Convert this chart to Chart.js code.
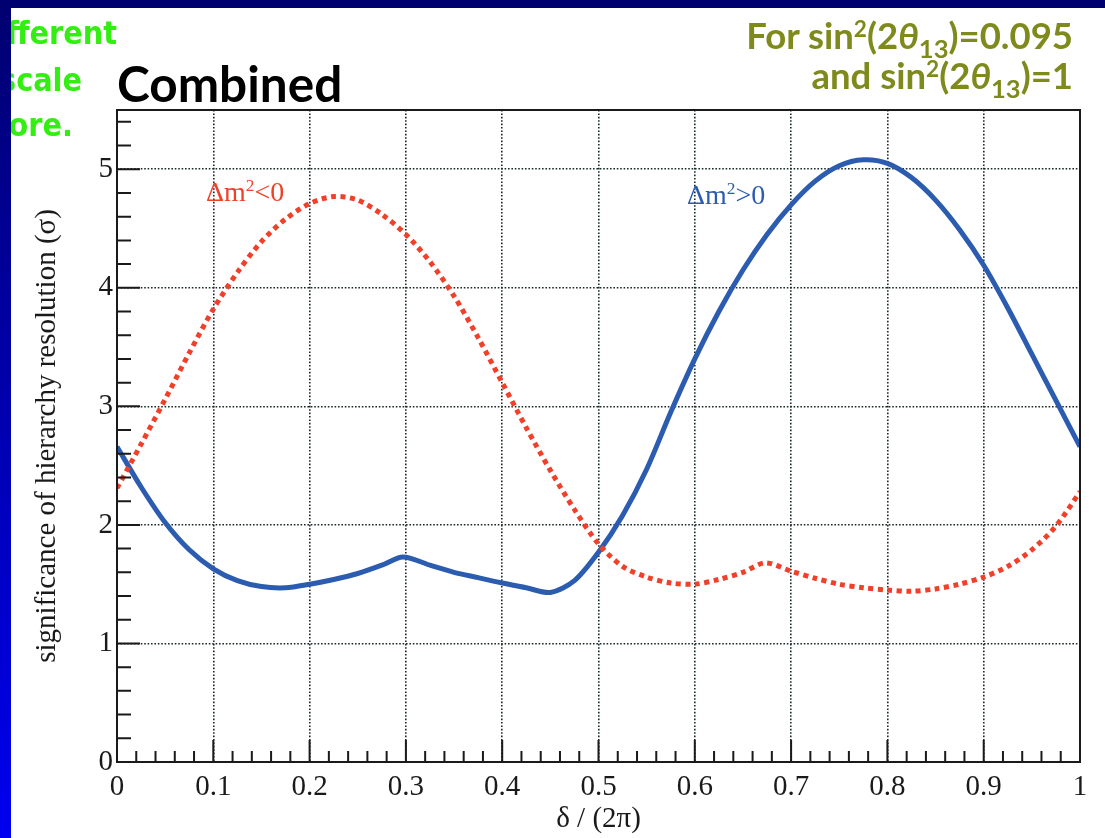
<!DOCTYPE html>
<html>
<head>
<meta charset="utf-8">
<script src="https://cdn.jsdelivr.net/npm/chart.js@4/dist/chart.umd.min.js"></script>
<style>
  html, body { margin: 0; padding: 0; background: #fff; }
  #page { position: relative; width: 1105px; height: 838px; overflow: hidden; background: #fff; }
  #chart { position: absolute; left: 0; top: 0; }
  .band-top { position: absolute; left: 0; top: 0; width: 1105px; height: 8px; background: #000070; z-index: 5; }
  .band-left { position: absolute; left: 0; top: 0; width: 11px; height: 838px; z-index: 5;
    background: linear-gradient(to bottom, #000070 0%, #0000b0 50%, #0000f0 100%); }
  .green { position: absolute; color: #33ee11; font: bold 32px "DejaVu Sans Condensed", "DejaVu Sans", sans-serif;
    font-stretch: condensed; white-space: nowrap; z-index: 2; line-height: 38px; }
  .combined { position: absolute; left: 117px; top: 53px; color: #000; font: bold 49.5px Lato, sans-serif; }
  .olive { position: absolute; right: 32px; color: #7f8a1c; font: bold 36.5px Lato, sans-serif; text-align: right; white-space: nowrap; }
  .olive sup { font-size: 0.62em; vertical-align: 0.55em; line-height: 0; }
  .olive sub { font-size: 0.7em; vertical-align: -0.35em; line-height: 0; }
  .lbl { position: absolute; font: 28px "Liberation Serif", serif; white-space: nowrap; }
  .lbl sup { font-size: 0.62em; vertical-align: 0.6em; line-height: 0; }
</style>
</head>
<body>
<div id="page">
  <canvas id="chart" width="1105" height="838"></canvas>
  <div class="band-top"></div>
  <div class="band-left"></div>
  <div class="green" style="right:988px; top:14px;">fferent</div>
  <div class="green" style="right:1023px; top:61px;">scale</div>
  <div class="green" style="right:1032px; top:106px;">ore.</div>
  <div class="combined">Combined</div>
  <div class="olive" style="top:13px;">For sin<sup>2</sup>(2<i>θ</i><sub>13</sub>)=0.095</div>
  <div class="olive" style="top:53px;">and sin<sup>2</sup>(2<i>θ</i><sub>13</sub>)=1</div>
  <div class="lbl" style="left:206px; top:176px; color:#f0402a;">Δm<sup>2</sup>&lt;0</div>
  <div class="lbl" style="left:687px; top:179px; color:#2c5cb0;">Δm<sup>2</sup>&gt;0</div>
</div>
<script>
// inverted hierarchy curve (dotted red)
var redX = [0, 0.025, 0.05, 0.075, 0.1, 0.125, 0.15, 0.175, 0.2, 0.225, 0.25, 0.275, 0.3, 0.325, 0.35, 0.375, 0.4,
    0.425, 0.45, 0.475, 0.5, 0.525, 0.55, 0.575, 0.6, 0.625, 0.65, 0.673, 0.7, 0.725, 0.75, 0.775, 0.8, 0.825,
    0.85, 0.875, 0.9, 0.925, 0.95, 0.975, 1];
var redY = [2.31, 2.68, 3.06, 3.45, 3.82, 4.13, 4.39, 4.58, 4.71, 4.77, 4.74, 4.62, 4.45, 4.22, 3.93, 3.58, 3.20,
    2.82, 2.46, 2.13, 1.84, 1.65, 1.56, 1.51, 1.50, 1.54, 1.60, 1.68, 1.61, 1.55, 1.50, 1.47, 1.45, 1.44,
    1.46, 1.50, 1.56, 1.65, 1.79, 1.99, 2.28];

// normal hierarchy curve (solid blue)
var blueX = [0, 0.025, 0.05, 0.075, 0.1, 0.125, 0.15, 0.175, 0.2, 0.225, 0.25, 0.275, 0.297, 0.325, 0.35, 0.375, 0.4,
    0.425, 0.45, 0.475, 0.5, 0.525, 0.55, 0.575, 0.6, 0.625, 0.65, 0.675, 0.7, 0.725, 0.75, 0.775, 0.8, 0.825,
    0.85, 0.875, 0.9, 0.925, 0.95, 0.975, 1];
var blueY = [2.66, 2.32, 2.02, 1.79, 1.63, 1.53, 1.48, 1.47, 1.50, 1.54, 1.59, 1.66, 1.73, 1.66, 1.60, 1.555, 1.51,
    1.47, 1.43, 1.53, 1.77, 2.08, 2.47, 2.95, 3.40, 3.80, 4.15, 4.45, 4.70, 4.90, 5.03, 5.08, 5.05, 4.93,
    4.74, 4.49, 4.19, 3.83, 3.44, 3.05, 2.66];

var xMajor = [0, 0.1, 0.2, 0.3, 0.4, 0.5, 0.6, 0.7, 0.8, 0.9, 1];
var yMajor = [0, 1, 2, 3, 4, 5];

var serif = 'Liberation Serif';

function pts(xs, ys) {
    return xs.map(function (x, i) { return { x: x, y: ys[i] }; });
}

// ROOT-like frame with inward ticks
var frameTicks = {
    id: 'frameTicks',
    afterDraw: function (c) {
        var ctx = c.ctx, a = c.chartArea, xs = c.scales.x, ys = c.scales.y;
        ctx.save();
        ctx.strokeStyle = '#1a1a1a';
        ctx.lineWidth = 2;
        ctx.beginPath();
        for (var i = 0; i <= 50; i++) {
            var px = xs.getPixelForValue(i / 50);
            var len = i % 5 === 0 ? 22 : 11;
            ctx.moveTo(px, a.bottom);
            ctx.lineTo(px, a.bottom - len);
        }
        for (var j = 0; j <= 27; j++) {
            var py = ys.getPixelForValue(j * 0.2);
            var l2 = j % 5 === 0 ? 23 : 14;
            ctx.moveTo(a.left, py);
            ctx.lineTo(a.left + l2, py);
        }
        ctx.stroke();
        ctx.strokeRect(a.left, a.top, a.right - a.left, a.bottom - a.top);
        ctx.restore();
    }
};

var ctx = document.getElementById('chart').getContext('2d');

var chart = new Chart(ctx, {
    type: 'line',
    data: {
        datasets: [
            {
                label: 'Δm²<0',
                data: pts(redX, redY),
                borderColor: '#f0402a',
                borderWidth: 5,
                borderDash: [5, 4.5],
                pointRadius: 0,
                tension: 0.3,
                fill: false
            },
            {
                label: 'Δm²>0',
                data: pts(blueX, blueY),
                borderColor: '#2c5cb0',
                borderWidth: 5,
                pointRadius: 0,
                tension: 0.3,
                fill: false
            }
        ]
    },
    options: {
        responsive: false,
        animation: false,
        devicePixelRatio: 1,
        layout: { padding: { top: 110, right: 25, left: 0, bottom: 0 } },
        plugins: { legend: { display: false }, tooltip: { enabled: false } },
        scales: {
            x: {
                type: 'linear',
                min: 0,
                max: 1,
                afterBuildTicks: function (s) {
                    s.ticks = xMajor.map(function (v) { return { value: v }; });
                },
                afterFit: function (s) { s.height = 76; },
                ticks: {
                    color: '#1a1a1a',
                    font: { family: serif, size: 29 },
                    padding: 8,
                    maxRotation: 0,
                    autoSkip: false,
                    callback: function (v) { return String(Math.round(v * 10) / 10); }
                },
                grid: {
                    drawTicks: false,
                    lineWidth: 1.6,
                    color: function (c) {
                        var v = c.tick ? c.tick.value : 0;
                        return (v <= 0 || v >= 1) ? 'rgba(0,0,0,0)' : '#1a2a2a';
                    }
                },
                border: { display: false, dash: [1.6, 1.8] },
                title: {
                    display: true,
                    text: 'δ / (2π)',
                    color: '#1a1a1a',
                    font: { family: serif, size: 29 },
                    padding: { top: 0, bottom: 1 }
                }
            },
            y: {
                min: 0,
                max: 5.5,
                afterBuildTicks: function (s) {
                    s.ticks = yMajor.map(function (v) { return { value: v }; });
                },
                afterFit: function (s) { s.width = 117; },
                ticks: {
                    color: '#1a1a1a',
                    font: { family: serif, size: 29 },
                    padding: 4
                },
                grid: {
                    drawTicks: false,
                    lineWidth: 1.6,
                    color: function (c) {
                        var v = c.tick ? c.tick.value : 0;
                        return v <= 0 ? 'rgba(0,0,0,0)' : '#1a2a2a';
                    }
                },
                border: { display: false, dash: [1.6, 1.8] },
                title: {
                    display: true,
                    text: 'significance of hierarchy resolution (σ)',
                    color: '#1a1a1a',
                    font: { family: serif, size: 29 },
                    padding: { top: 30, bottom: 0 }
                }
            }
        }
    },
    plugins: [frameTicks]
});
</script>
</body>
</html>
